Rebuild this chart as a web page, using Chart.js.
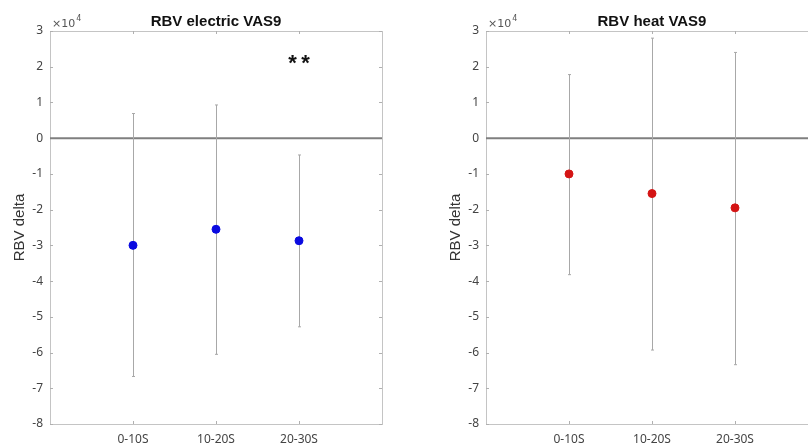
<!DOCTYPE html>
<html lang="en">
<head>
    <meta charset="UTF-8">
    <title>RBV VAS9</title>
    <script src="https://cdn.jsdelivr.net/npm/chart.js@4/dist/chart.umd.min.js"></script>
    <style>
        html, body { margin: 0; padding: 0; background: #fff; }
        body { width: 808px; height: 447px; overflow: hidden; position: relative; }
        .panel { position: absolute; top: 0; width: 400px; height: 447px; }
    </style>
</head>
<body>
    <div class="panel" style="left:0px"><canvas id="chartElectric" width="400" height="447"></canvas></div>
    <div class="panel" style="left:436px"><canvas id="chartHeat" width="400" height="447"></canvas></div>

    <script>
        // categories (time windows)
        var categories = ['0-10S', '10-20S', '20-30S'];
        var yTicks = [-8, -7, -6, -5, -4, -3, -2, -1, 0, 1, 2, 3]; // x 10^4

        // electric VAS9 : mean, upper and lower end of error bar
        var electricMean  = [-30000, -25500, -28700];
        var electricUpper = [  6900,   9300,  -4700];
        var electricLower = [-66700, -60500, -52800];

        // heat VAS9
        var heatMean  = [-10000, -15500, -19500];
        var heatUpper = [ 17800,  28000,  24000];
        var heatLower = [-38200, -59300, -63400];

        // significance marks: [category index, value, text]
        var electricMarks = [[2, 21000, '**']];
        var heatMarks = [];

        // draws box, inside ticks, zero line, error bars and texts
        var matlabLook = {
            id: 'matlabLook',
            beforeDatasetsDraw: function (chart, args, opts) {
                var ctx = chart.ctx;
                var a = chart.chartArea;
                var xs = chart.scales.x, ys = chart.scales.y;
                ctx.save();
                // box
                ctx.strokeStyle = '#c4c4c4';
                ctx.lineWidth = 1;
                ctx.strokeRect(a.left + 0.5, a.top + 0.5, a.right - a.left, a.bottom - a.top);
                // ticks inside
                ctx.strokeStyle = '#b0b0b0';
                ctx.beginPath();
                yTicks.forEach(function (t) {
                    var py = Math.round(ys.getPixelForValue(t * 10000)) + 0.5;
                    ctx.moveTo(a.left, py); ctx.lineTo(a.left + 3, py);
                    ctx.moveTo(a.right, py); ctx.lineTo(a.right - 3, py);
                });
                for (var i = 0; i < categories.length; i++) {
                    var px = Math.round(xs.getPixelForValue(i + 1)) + 0.5;
                    ctx.moveTo(px, a.bottom); ctx.lineTo(px, a.bottom - 3);
                    ctx.moveTo(px, a.top); ctx.lineTo(px, a.top + 3);
                }
                ctx.stroke();
                // zero line
                var zy = ys.getPixelForValue(0);
                ctx.strokeStyle = '#7f7f7f';
                ctx.lineWidth = 2;
                ctx.beginPath();
                ctx.moveTo(a.left, zy); ctx.lineTo(a.right, zy);
                ctx.stroke();
                // error bars
                ctx.strokeStyle = '#a8a8a8';
                ctx.lineWidth = 1;
                ctx.beginPath();
                for (var j = 0; j < opts.upper.length; j++) {
                    var x = Math.round(xs.getPixelForValue(j + 1)) + 0.5;
                    var yu = ys.getPixelForValue(opts.upper[j]);
                    var yl = ys.getPixelForValue(opts.lower[j]);
                    ctx.moveTo(x, yu); ctx.lineTo(x, yl);
                    ctx.moveTo(x - 1.5, yu); ctx.lineTo(x + 1.5, yu);
                    ctx.moveTo(x - 1.5, yl); ctx.lineTo(x + 1.5, yl);
                }
                ctx.stroke();
                ctx.restore();
            },
            afterDraw: function (chart, args, opts) {
                var ctx = chart.ctx;
                var a = chart.chartArea;
                var xs = chart.scales.x, ys = chart.scales.y;
                ctx.save();
                // title
                ctx.fillStyle = '#111';
                ctx.font = 'bold 15px "Liberation Sans", Arial, sans-serif';
                ctx.textAlign = 'center';
                ctx.textBaseline = 'alphabetic';
                ctx.fillText(opts.title, (a.left + a.right) / 2, 26);
                // exponent
                ctx.fillStyle = '#555';
                ctx.textAlign = 'left';
                ctx.font = '11px "DejaVu Sans", sans-serif';
                ctx.fillText('\u00d710', a.left + 2, 27);
                var w = ctx.measureText('\u00d710').width;
                ctx.font = '8px "DejaVu Sans", sans-serif';
                ctx.fillText('4', a.left + 3 + w, 21);
                // y axis title
                ctx.fillStyle = '#333';
                ctx.font = '15px "Liberation Sans", Arial, sans-serif';
                ctx.translate(20, (a.top + a.bottom) / 2);
                ctx.rotate(-Math.PI / 2);
                ctx.textAlign = 'center';
                ctx.textBaseline = 'middle';
                ctx.fillText('RBV delta', 0, 0);
                ctx.restore();
                // marks
                ctx.save();
                ctx.fillStyle = '#111';
                ctx.font = 'bold 22px "Liberation Sans", Arial, sans-serif';
                ctx.textAlign = 'center';
                ctx.textBaseline = 'middle';
                opts.marks.forEach(function (m) {
                    ctx.fillText(m[2].split('').join('\u2009'), xs.getPixelForValue(m[0] + 1), ys.getPixelForValue(m[1]) + 1);
                });
                ctx.restore();
            }
        };

        function makeChart(id, title, mean, upper, lower, marks, color) {
            var pts = [];
            for (var i = 0; i < mean.length; i++) {
                pts.push({x: i + 1, y: mean[i]});
            }
            return new Chart(document.getElementById(id), {
                type: 'scatter',
                data: {
                    datasets: [{
                        data: pts,
                        backgroundColor: color,
                        borderColor: color,
                        borderWidth: 1,
                        pointRadius: 4,
                        pointHoverRadius: 4
                    }]
                },
                options: {
                    responsive: false,
                    animation: false,
                    layout: { padding: { top: 31, right: 18, left: 0, bottom: 0 } },
                    plugins: {
                        legend: { display: false },
                        tooltip: { enabled: false },
                        matlabLook: { title: title, upper: upper, lower: lower, marks: marks }
                    },
                    scales: {
                        x: {
                            type: 'linear',
                            min: 0,
                            max: categories.length + 1,
                            afterBuildTicks: function (scale) {
                                scale.ticks = categories.map(function (c, i) { return {value: i + 1}; });
                            },
                            afterFit: function (scale) { scale.height = 23; },
                            grid: { display: false, drawTicks: false },
                            border: { display: false },
                            ticks: {
                                padding: 8,
                                color: '#444',
                                font: { family: '"Noto Sans", sans-serif', size: 12 },
                                maxRotation: 0,
                                callback: function (v) { return categories[v - 1]; }
                            }
                        },
                        y: {
                            min: -80000,
                            max: 30000,
                            afterBuildTicks: function (scale) {
                                scale.ticks = yTicks.map(function (t) { return {value: t * 10000}; });
                            },
                            afterFit: function (scale) { scale.width = 50; },
                            grid: { display: false, drawTicks: false },
                            border: { display: false },
                            ticks: {
                                padding: 7,
                                color: '#444',
                                font: { family: '"Noto Sans", sans-serif', size: 12 },
                                callback: function (v) { return String(Math.round(v / 10000)); }
                            }
                        }
                    }
                },
                plugins: [matlabLook]
            });
        }

        makeChart('chartElectric', 'RBV electric VAS9', electricMean, electricUpper, electricLower, electricMarks, '#0a0ae0');
        makeChart('chartHeat', 'RBV heat VAS9', heatMean, heatUpper, heatLower, heatMarks, '#d41414');
    </script>
</body>
</html>
